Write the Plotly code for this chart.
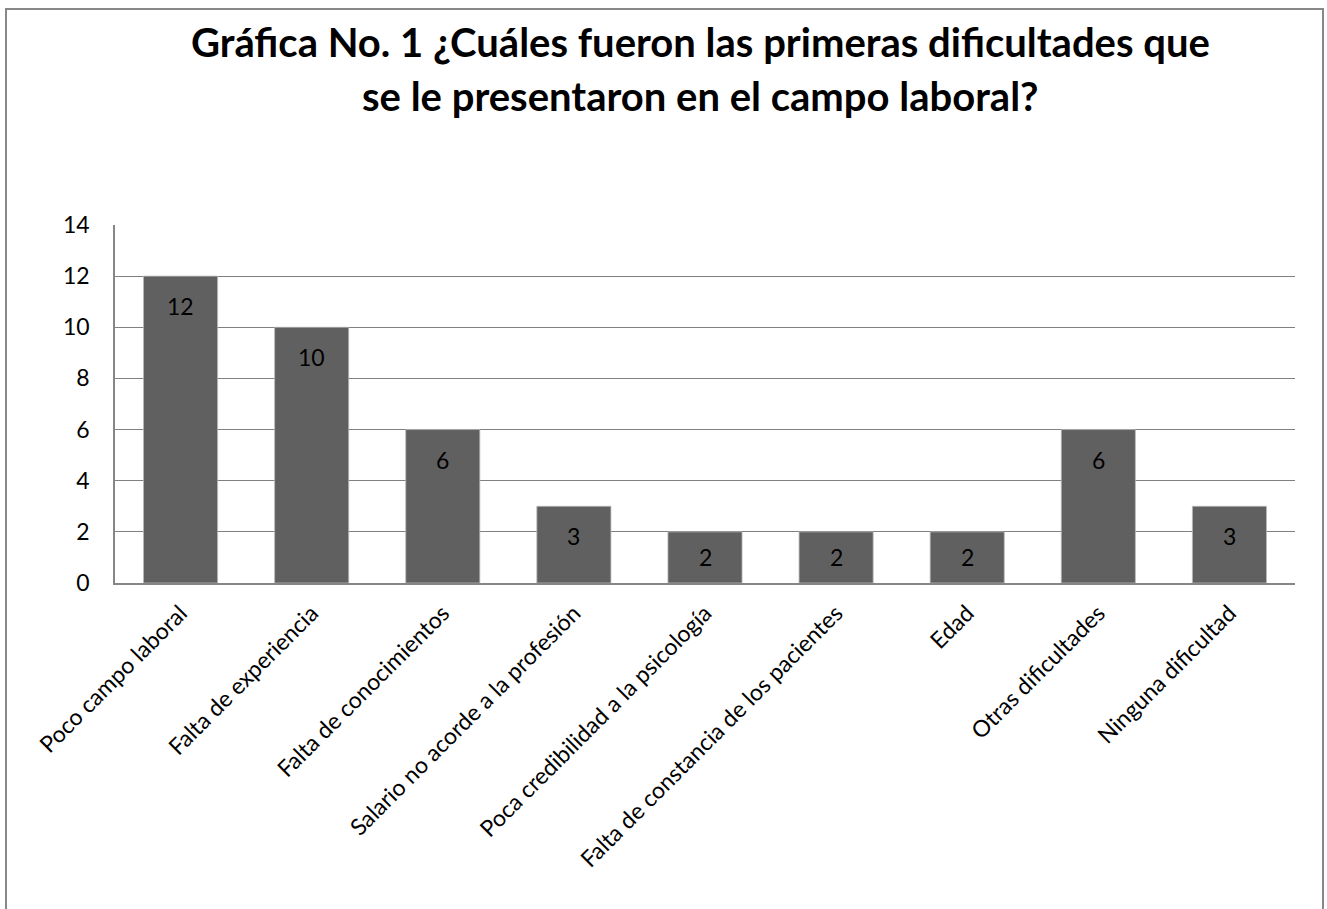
import plotly.graph_objects as go

categories = [
    "Poco campo laboral",
    "Falta de experiencia",
    "Falta de conocimientos",
    "Salario no acorde a la profesión",
    "Poca credibilidad a la psicología",
    "Falta de constancia de los pacientes",
    "Edad",
    "Otras dificultades",
    "Ninguna dificultad",
]
values = [12, 10, 6, 3, 2, 2, 2, 6, 3]
y_ticks = [0, 2, 4, 6, 8, 10, 12, 14]
title_lines = [
    "Gráfica No. 1 ¿Cuáles fueron las primeras dificultades que",
    "se le presentaron en el campo laboral?",
]

FONT = "Lato, Calibri, Carlito, sans-serif"
W, H = 1327, 909
ML, MR, MT, MB = 115, 32, 225, 326
PW, PH = W - ML - MR, H - MT - MB

fig = go.Figure()
fig.add_trace(go.Bar(
    x=categories,
    y=values,
    marker=dict(color="#606060", line=dict(color="#b8b8b8", width=0.8)),
    width=0.565,
    hoverinfo="x+y",
))

annotations = []
for c, v in zip(categories, values):
    annotations.append(dict(
        x=c, y=v, xref="x", yref="y", text=str(v), showarrow=False,
        yanchor="middle", yshift=-30 if v > 2 else -25,
        font=dict(family=FONT, size=23, color="#000000"),
    ))

def py(pix):
    return 1 - (pix - MT) / PH

for line, ypix in zip(title_lines, [42, 96]):
    annotations.append(dict(
        x=(700 - ML) / PW, y=py(ypix), xref="paper", yref="paper",
        text="<b>" + line + "</b>", showarrow=False,
        xanchor="center", yanchor="middle",
        font=dict(family=FONT, size=40, color="#000000"),
    ))

fig.update_layout(
    width=W, height=H,
    margin=dict(l=ML, r=MR, t=MT, b=MB, pad=0),
    paper_bgcolor="white", plot_bgcolor="white",
    showlegend=False,
    font=dict(family=FONT, size=23, color="#000000"),
    annotations=annotations,
    bargap=0.435,
    xaxis=dict(
        tickangle=-45, showgrid=False, showline=True, linecolor="#868686",
        linewidth=1.5, ticks="", ticklabelstandoff=6,
        tickfont=dict(family=FONT, size=23), fixedrange=True,
    ),
    yaxis=dict(
        range=[0, 14], tickvals=y_ticks, showgrid=True, gridcolor="#808080",
        gridwidth=1.3, showline=True, linecolor="#868686", linewidth=1.5,
        ticks="", ticklabelstandoff=19, zeroline=False,
        tickfont=dict(family=FONT, size=23), fixedrange=True,
    ),
    shapes=[dict(
        type="rect", xref="paper", yref="paper",
        x0=(6 - ML) / PW, x1=(1323 - ML) / PW,
        y0=py(915), y1=py(9),
        line=dict(color="#888888", width=2), fillcolor="rgba(0,0,0,0)",
        layer="below",
    )],
)

fig.write_html(
    "out.html",
    config={"displayModeBar": False},
    post_script="document.body.style.margin='0';document.body.style.overflow='hidden';",
)
